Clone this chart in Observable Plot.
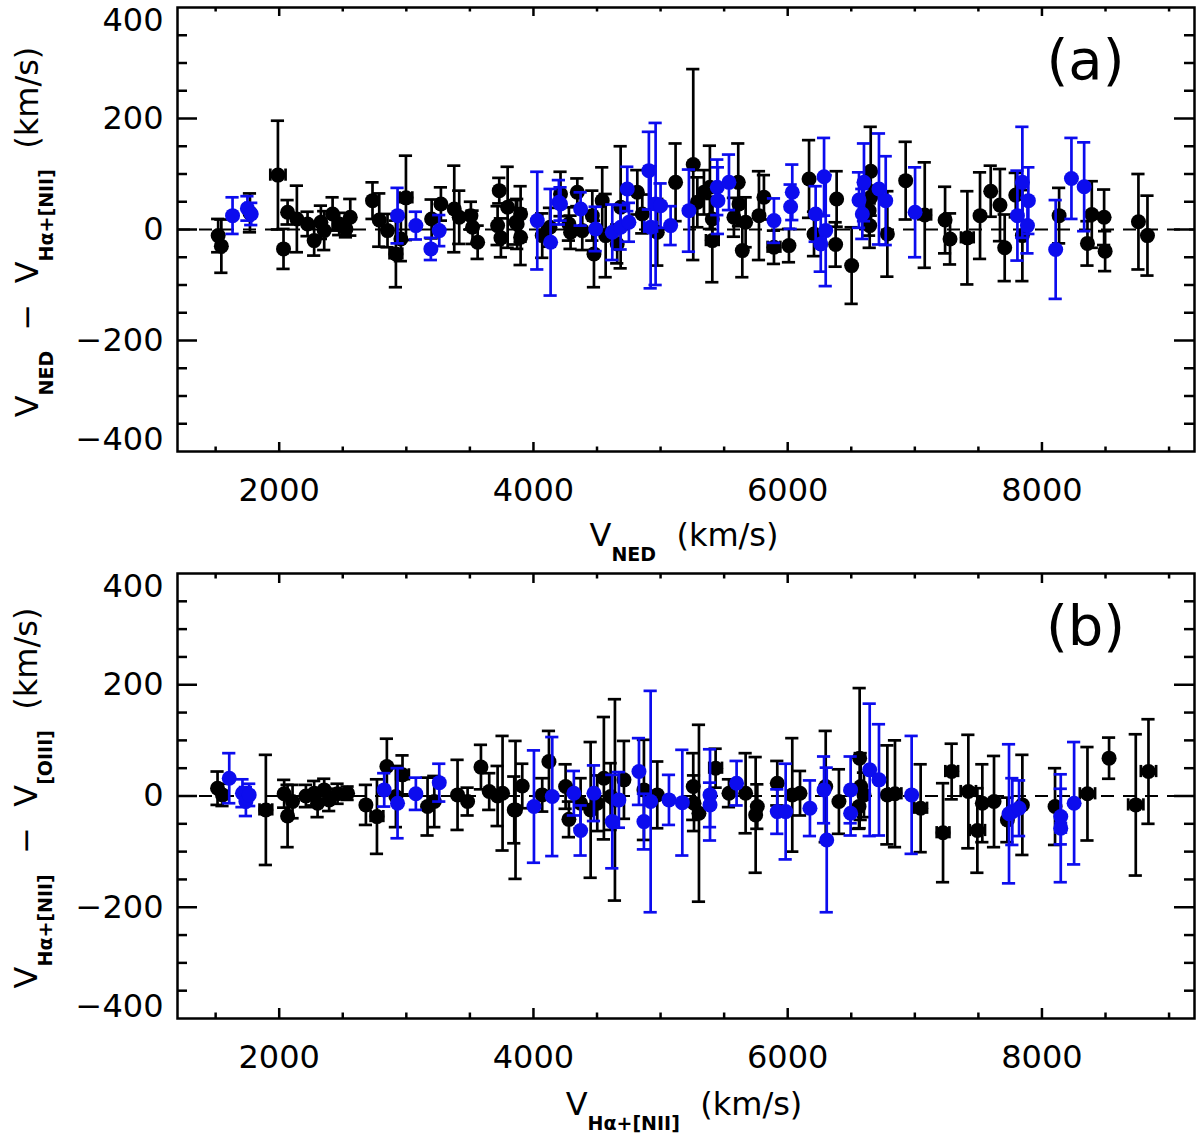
<!DOCTYPE html>
<html>
<head>
<meta charset="utf-8">
<script src="https://cdn.jsdelivr.net/npm/d3@7"></script>
<script src="https://cdn.jsdelivr.net/npm/@observablehq/plot@0.6"></script>
<style>
  body { margin: 0; background: #fff; }
  #vis svg { display: block; }
</style>
</head>
<body>
<div id="vis"></div>
<script>
// [x, dy, yErr, xErr]  (km/s)
const aBlack = [
  [1520,-11,30,0],[1545,-30,48,0],[1770,30,35,0],[1990,98,98,60],[2034,-35,36,0],
  [2066,31,22,0],[2139,19,60,0],[2223,10,22,0],[2275,-20,27,0],[2328,13,30,0],
  [2354,-2,35,0],[2420,28,30,0],[2472,10,20,0],[2525,1,15,0],[2559,22,33,0],
  [2734,52,33,0],[2787,17,48,0],[2852,-2,30,0],[2918,-44,60,50],[2957,-17,40,0],
  [2997,57,76,50],[3199,19,35,0],[3272,46,30,0],[3377,37,78,0],[3416,22,48,0],
  [3508,25,25,0],[3521,4,30,0],[3561,-23,30,0],[3731,70,23,0],[3718,7,35,0],
  [3744,-15,35,0],[3797,40,73,0],[3862,13,40,0],[3899,28,50,0],[3872,10,45,0],
  [3899,-14,50,0],[4069,-11,40,0],[4130,4,35,0],[4213,64,40,0],[4279,10,30,0],
  [4292,-5,30,0],[4345,67,25,0],[4384,-2,35,0],[4463,25,45,0],[4476,-44,60,0],
  [4541,52,60,0],[4568,-11,75,0],[4659,-26,35,0],[4686,40,110,0],[4817,67,40,0],
  [4856,28,35,0],[4974,-5,60,0],[5118,85,70,0],[5257,117,172,0],[5289,49,45,0],
  [5341,67,40,0],[5388,76,75,0],[5407,19,40,0],[5407,-20,75,50],[5611,85,70,0],
  [5617,46,40,0],[5577,22,35,0],[5669,13,45,0],[5643,-38,48,0],[5774,25,80,0],
  [5813,58,40,0],[5892,-32,30,50],[6010,-29,30,0],[6168,91,70,0],[6207,-8,40,0],
  [6385,55,50,0],[6377,-27,40,0],[6503,-65,69,0],[6653,105,80,0],[6653,58,50,0],
  [6640,34,45,0],[6645,7,40,0],[6784,-8,77,0],[6928,88,70,0],[7078,26,95,50],
  [7238,17,60,0],[7277,-17,46,0],[7413,-15,84,50],[7513,25,78,0],[7597,69,46,0],
  [7670,44,65,0],[7707,-33,60,0],[7794,62,40,0],[7846,-11,82,0],[8135,25,50,0],
  [8358,-25,40,0],[8392,27,60,0],[8489,22,50,0],[8497,-39,36,0],[8759,14,86,0],
  [8830,-11,72,0]
];
const aBlue = [
  [1633,25,33,0],[1750,38,22,0],[1780,28,20,0],[2931,25,50,0],[3075,7,25,0],
  [3193,-35,20,0],[3259,-2,28,0],[4030,16,88,0],[4135,-23,96,0],[4200,49,40,0],
  [4213,46,30,0],[4371,37,30,0],[4489,1,40,0],[4620,-5,50,0],[4686,4,40,0],
  [4738,73,40,0],[4751,13,35,0],[4908,106,70,0],[4922,4,110,50],[4961,46,146,0],
  [5000,43,40,0],[5079,7,35,0],[5223,34,74,0],[5446,76,50,0],[5451,52,60,0],
  [5538,85,50,0],[5892,16,40,0],[6036,67,50,0],[6023,41,40,0],[6286,95,70,0],
  [6220,28,50,0],[6299,-2,100,0],[6260,-26,50,0],[6561,53,50,0],[6600,85,70,0],
  [6587,28,45,0],[6718,73,100,0],[6771,52,80,0],[7002,31,81,0],[7807,25,81,0],
  [7846,85,100,0],[7893,52,60,0],[7886,7,50,0],[8108,-36,89,0],[8232,92,73,0],
  [8332,77,80,0]
];
const bBlack = [
  [1515,14,30,0],[1554,2,20,0],[1895,-25,99,50],[2039,4,25,0],[2066,-36,56,0],
  [2105,-10,30,0],[2210,0,20,0],[2275,5,22,0],[2302,-13,25,0],[2354,11,20,0],
  [2393,-7,20,0],[2459,4,18,0],[2538,5,12,0],[2682,-16,36,0],[2769,-37,67,50],
  [2847,53,50,0],[2918,-1,55,0],[2970,38,35,50],[3167,-19,52,0],[3220,-10,46,0],
  [3403,2,63,0],[3482,-10,25,0],[3587,52,40,0],[3652,8,33,0],[3718,0,54,0],
  [3757,5,103,0],[3849,-25,60,0],[3859,-25,124,0],[3912,18,40,0],[4069,2,30,0],
  [4122,62,55,0],[4253,17,40,0],[4279,-42,32,0],[4371,-13,45,0],[4450,-25,122,0],
  [4554,32,110,0],[4502,-13,50,0],[4607,-1,60,0],[4641,-7,181,0],[4712,29,70,0],
  [4869,11,90,0],[4974,2,60,0],[5257,17,60,0],[5302,-31,159,0],[5263,-13,50,0],
  [5433,50,35,50],[5538,5,25,0],[5669,5,72,0],[5748,-34,104,0],[5761,-19,40,0],
  [5918,23,40,0],[6036,2,102,0],[6097,5,40,0],[6299,17,100,0],[6403,-10,58,0],
  [6566,68,126,0],[6574,17,60,0],[6600,2,40,0],[6561,-19,40,0],[6784,2,89,0],
  [6844,4,96,50],[7046,-22,79,50],[7222,-66,89,50],[7290,44,50,50],[7421,8,102,60],
  [7492,-62,76,60],[7531,-13,70,0],[7623,-10,82,0],[7728,-43,40,0],[7846,-16,90,0],
  [8103,-19,69,0],[8358,4,84,60],[8528,68,37,0],[8738,-16,127,60],[8838,44,94,60]
];
const bBlue = [
  [1607,32,45,0],[1711,5,25,0],[1738,-10,26,0],[1764,2,20,0],[2826,11,30,0],
  [2931,-13,63,0],[3075,4,29,0],[3259,24,34,0],[4004,-19,101,0],[4148,-1,107,0],
  [4318,5,40,0],[4371,-62,45,0],[4476,5,50,0],[4620,-46,84,0],[4672,-7,50,0],
  [4830,44,60,0],[4869,-46,50,0],[4922,-10,199,0],[5066,-7,45,0],[5171,-12,95,0],
  [5389,2,82,0],[5389,-16,40,0],[5598,23,40,0],[5918,-28,40,0],[5984,-28,86,0],
  [6175,-22,50,0],[6286,11,60,0],[6307,-79,130,0],[6495,11,60,0],[6495,-31,40,0],
  [6645,47,119,0],[6718,29,100,0],[6975,2,106,0],[7741,-32,125,0],[7767,-28,60,0],
  [7820,-22,50,0],[8148,-58,97,40],[8148,-37,50,0],[8253,-13,110,0]
];

const xDomain = [1200, 9200];
const yDomain = [-400, 400];
const xMajor = [2000, 4000, 6000, 8000];
const xMinor = [1500, 2500, 3000, 3500, 4500, 5000, 5500, 6500, 7000, 7500, 8500, 9000];
const yMajor = [-200, 0, 200];
const yMinor = [-350, -300, -250, -150, -100, -50, 50, 100, 150, 250, 300, 350];

const BLUE = "#0c0cee";
const FONT = "DejaVu Sans";
const fmt = d => d < 0 ? "\u2212" + Math.abs(d) : String(d);
const frameH = 444, frameW = 1017;

function errMarks(data, color) {
  const withX = data.filter(d => d[3] > 0);
  return [
    Plot.ruleX(data, {x: d => d[0], y1: d => d[1] - d[2], y2: d => d[1] + d[2], stroke: color, strokeWidth: 2.7}),
    Plot.ruleY(data, {y: d => d[1] + d[2], x1: d => d[0] - 52, x2: d => d[0] + 52, stroke: color, strokeWidth: 2.7}),
    Plot.ruleY(data, {y: d => d[1] - d[2], x1: d => d[0] - 52, x2: d => d[0] + 52, stroke: color, strokeWidth: 2.7}),
    Plot.ruleY(withX, {y: d => d[1], x1: d => d[0] - d[3], x2: d => d[0] + d[3], stroke: color, strokeWidth: 2.7}),
    Plot.ruleX(withX, {x: d => d[0] - d[3], y1: d => d[1] - 11, y2: d => d[1] + 11, stroke: color, strokeWidth: 2.7}),
    Plot.ruleX(withX, {x: d => d[0] + d[3], y1: d => d[1] - 11, y2: d => d[1] + 11, stroke: color, strokeWidth: 2.7}),
    Plot.dot(data, {x: d => d[0], y: d => d[1], r: 7.5, fill: color, stroke: null})
  ];
}

function panel(black, blue, height, marginBottom, tag) {
  return Plot.plot({
    width: 1200,
    height: height,
    marginLeft: 177,
    marginRight: 6,
    marginTop: 7,
    marginBottom: marginBottom,
    x: {domain: xDomain, axis: null},
    y: {domain: yDomain, axis: null},
    style: {fontFamily: FONT, color: "black", background: "white"},
    marks: [
      Plot.ruleY([0], {strokeDasharray: "13,9", strokeWidth: 2}),
      ...errMarks(black, "black"),
      ...errMarks(blue, BLUE),
      Plot.frame({strokeWidth: 2.5}),
      // inward ticks on all four sides
      Plot.ruleX(xMajor, {x: d => d, insetTop: frameH - 9, strokeWidth: 2.5}),
      Plot.ruleX(xMinor, {x: d => d, insetTop: frameH - 4.5, strokeWidth: 2.5}),
      Plot.ruleX(xMajor, {x: d => d, insetBottom: frameH - 9, strokeWidth: 2.5}),
      Plot.ruleX(xMinor, {x: d => d, insetBottom: frameH - 4.5, strokeWidth: 2.5}),
      Plot.ruleY(yMajor, {y: d => d, insetRight: frameW - 20, strokeWidth: 2.5}),
      Plot.ruleY(yMinor, {y: d => d, insetRight: frameW - 10, strokeWidth: 2.5}),
      Plot.ruleY(yMajor, {y: d => d, insetLeft: frameW - 20, strokeWidth: 2.5}),
      Plot.ruleY(yMinor, {y: d => d, insetLeft: frameW - 10, strokeWidth: 2.5}),
      // tick labels
      Plot.text(xMajor, {x: d => d, frameAnchor: "bottom", lineAnchor: "top", dy: 27, text: fmt, fontSize: 32}),
      Plot.text(yMajor, {y: d => d, frameAnchor: "left", textAnchor: "end", dx: -14, text: fmt, fontSize: 32}),
      Plot.text([400], {y: d => d, frameAnchor: "left", textAnchor: "end", dx: -14, dy: 13, text: fmt, fontSize: 32}),
      Plot.text([-400], {y: d => d, frameAnchor: "left", textAnchor: "end", dx: -14, dy: -12, text: fmt, fontSize: 32}),
      Plot.text([tag], {frameAnchor: "top-right", textAnchor: "middle", lineAnchor: "middle", dx: -109, dy: 54, fontSize: 56})
    ]
  });
}

// axis title with subscripts
function title(svg, x, y, rotate, parts) {
  const t = svg.append("text")
    .attr("transform", `translate(${x},${y})` + (rotate ? " rotate(-90)" : ""))
    .attr("text-anchor", "middle")
    .attr("font-family", FONT)
    .attr("font-size", 32)
    .attr("fill", "black");
  parts.forEach(p => {
    const s = t.append("tspan").text(p.text);
    if (p.sub) s.attr("font-size", 19).attr("font-weight", "bold").attr("dy", 15);
    else if (p.back) s.attr("dy", -15);
  });
}

const NB = "\u00a0";
const chartA = panel(aBlack, aBlue, 566, 115, "(a)");
const chartB = panel(bBlack, bBlue, 575, 123, "(b)");

title(d3.select(chartA), 684, 546, false, [
  {text: "V"}, {text: "NED", sub: true}, {text: NB + NB + "(km/s)", back: true}
]);
title(d3.select(chartA), 38, 232, true, [
  {text: "V"}, {text: "NED", sub: true}, {text: NB + NB + "\u2212" + NB + NB + "V", back: true},
  {text: "H\u03b1+[NII]", sub: true}, {text: NB + NB + "(km/s)", back: true}
]);
title(d3.select(chartB), 684, 549, false, [
  {text: "V"}, {text: "H\u03b1+[NII]", sub: true}, {text: NB + NB + "(km/s)", back: true}
]);
title(d3.select(chartB), 37, 232, true, [
  {text: "V"}, {text: "H\u03b1+[NII]", sub: true}, {text: NB + NB + "\u2212" + NB + NB + "V", back: true},
  {text: "[OIII]", sub: true}, {text: NB + NB + "(km/s)", back: true}
]);

d3.select("#vis").append(() => chartA);
d3.select("#vis").append(() => chartB);
</script>
</body>
</html>
